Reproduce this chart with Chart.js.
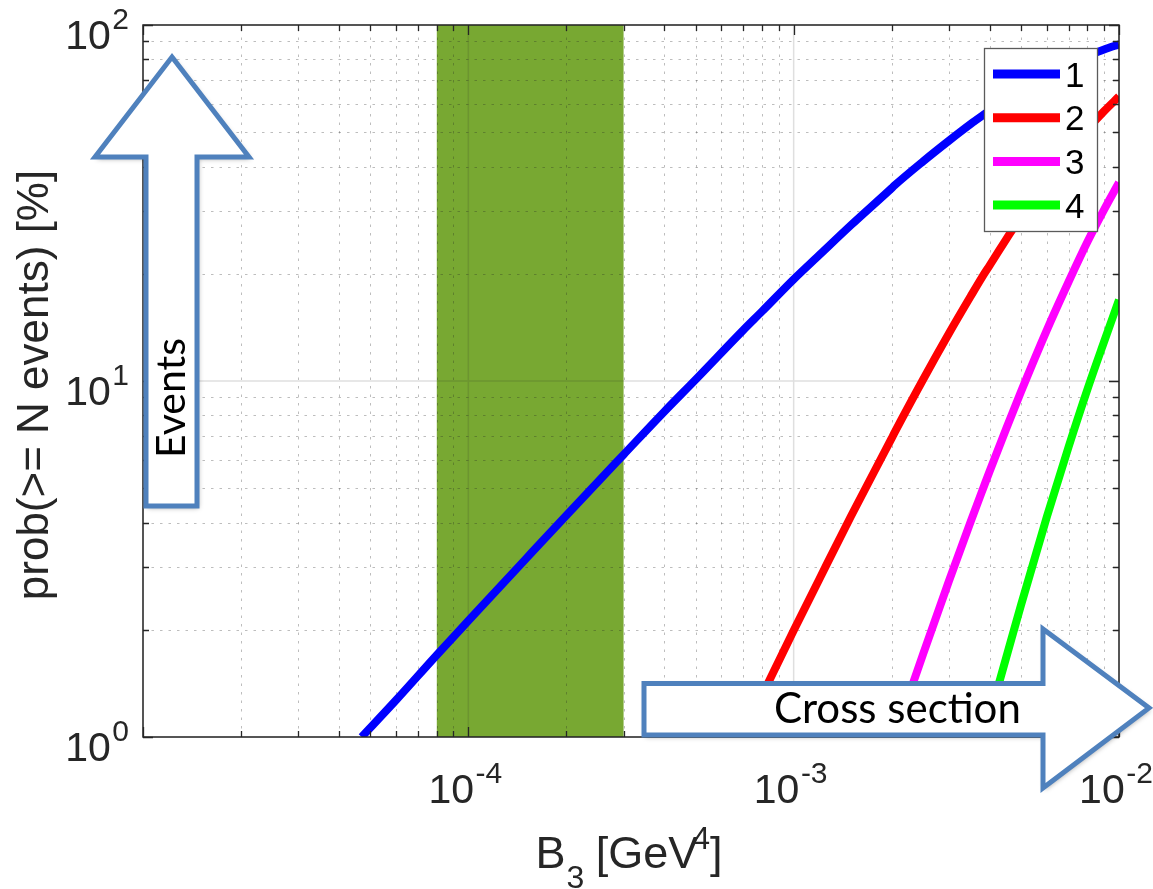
<!DOCTYPE html>
<html>
<head>
<meta charset="utf-8">
<title>prob(>= N events) vs B3</title>
<script src="https://cdn.jsdelivr.net/npm/chart.js@4.4.1/dist/chart.umd.min.js"></script>
<style>
  html, body { margin: 0; padding: 0; background: #ffffff; }
  canvas { display: block; }
</style>
</head>
<body>
<canvas id="chart" width="1153" height="889"></canvas>
<script>
// B3 sample points [GeV^4]
const b3 = [4.7e-5, 6e-5, 8e-5, 1e-4, 1.5e-4, 2e-4, 3e-4, 4e-4, 5e-4, 7e-4, 8e-4, 1e-3, 1.2e-3, 1.5e-3,
            2e-3, 2.04e-3, 2.5e-3, 3e-3, 3.5e-3, 3.85e-3, 4e-3, 4.5e-3, 5e-3, 6e-3, 7e-3, 8e-3, 9e-3, 1e-2];

// probability of observing at least N events [%]; null = below the plotted range
const probN1 = [1.00, 1.27, 1.70, 2.12, 3.16, 4.19, 6.21, 8.20, 10.1, 13.9, 15.7, 19.3, 22.6, 27.4,
                34.8, 35.4, 41.4, 47.3, 52.7, 56.1, 57.5, 61.8, 65.7, 72.3, 77.6, 81.9, 85.4, 88.2];
const probN2 = [null, null, null, null, null, null, null, null, null, 1.01, 1.31, 1.99, 2.78, 4.17,
                6.90, 7.15, 10.1, 13.6, 17.3, 20.0, 21.1, 25.0, 29.0, 36.7, 44.1, 51.0, 57.3, 63.0];
const probN3 = [null, null, null, null, null, null, null, null, null, null, null, null, null, null,
                null, 1.00, 1.71, 2.74, 4.03, 5.08, 5.57, 7.34, 9.34, 13.9, 19.0, 24.6, 30.3, 36.1];
const probN4 = [null, null, null, null, null, null, null, null, null, null, null, null, null, null,
                null, null, null, null, null, 1.00, 1.14, 1.67, 2.35, 4.15, 6.53, 9.48, 12.9, 16.9];

const seriesLabels = ['1', '2', '3', '4'];
const seriesColors = ['#0000ff', '#ff0000', '#ff00ff', '#00ff00'];

// shaded B3 interval [GeV^4]
const bandRange = [8e-5, 3e-4];

// axis ranges and tick labels
const xRange = [1e-5, 1e-2];
const yRange = [1, 100];
const xDecades = [1e-5, 1e-4, 1e-3, 1e-2];
const yDecades = [1, 10, 100];
const xTickValues = [1e-4, 1e-3, 1e-2];
const xTickExponents = ['-4', '-3', '-2'];
const yTickValues = [1, 10, 100];
const yTickExponents = ['0', '1', '2'];

const AXIS = '#262626';
const SANS = '"Liberation Sans", Arial, Helvetica, sans-serif';
const ARROW_FONT = 'Lato, "Open Sans", sans-serif';
const ARROW_BLUE = '#4f81bd';

function series(label, values, color) {
  return {
    label: label,
    data: b3.map((v, i) => ({ x: v, y: values[i] })),
    borderColor: color,
    backgroundColor: color,
    borderWidth: 8,
    pointRadius: 0,
    fill: false,
    cubicInterpolationMode: 'monotone',
    borderCapStyle: 'butt'
  };
}

// draws "10" with a raised exponent
function power(ctx, exp, x, y, align) {
  ctx.font = '41px ' + SANS;
  const wb = ctx.measureText('10').width;
  ctx.font = '30px ' + SANS;
  const we = ctx.measureText(exp).width;
  const gap = 1.5;
  const w = wb + gap + we;
  let x0 = x;
  if (align === 'center') x0 = x - w / 2;
  else if (align === 'right') x0 = x - w;
  ctx.textAlign = 'left';
  ctx.textBaseline = 'alphabetic';
  ctx.font = '41px ' + SANS;
  ctx.fillText('10', x0, y);
  ctx.font = '30px ' + SANS;
  ctx.fillText(exp, x0 + wb + gap, y - 20);
}

function minorValues(decades, lo, hi) {
  const out = [];
  decades.forEach(d => {
    for (let m = 1; m <= 9; m++) {
      const v = d * m;
      if (v >= lo * 0.9999 && v <= hi * 1.0001) out.push({ v: v, major: m === 1 });
    }
  });
  return out;
}

const sciPlot = {
  id: 'sciPlot',
  beforeDatasetsDraw(chart) {
    const { ctx, chartArea: a, scales: { x, y } } = chart;
    ctx.save();
    // shaded interval
    const bx0 = x.getPixelForValue(bandRange[0]);
    const bx1 = x.getPixelForValue(bandRange[1]);
    ctx.fillStyle = '#78a832';
    ctx.fillRect(bx0, a.top, bx1 - bx0, a.bottom - a.top);

    // grid: solid at decades, dotted in between
    const xs = minorValues(xDecades, xRange[0], xRange[1]);
    const ys = minorValues(yDecades, yRange[0], yRange[1]);
    ctx.lineWidth = 1;
    ctx.setLineDash([2.5, 6]);
    ctx.strokeStyle = 'rgba(38,38,38,0.3)';
    ctx.beginPath();
    xs.filter(t => !t.major).forEach(t => {
      const px = Math.round(x.getPixelForValue(t.v)) + 0.5;
      ctx.moveTo(px, a.bottom); ctx.lineTo(px, a.top);
    });
    ys.filter(t => !t.major).forEach(t => {
      const py = Math.round(y.getPixelForValue(t.v)) + 0.5;
      ctx.moveTo(a.left, py); ctx.lineTo(a.right, py);
    });
    ctx.stroke();
    ctx.setLineDash([]);
    ctx.lineWidth = 1.5;
    ctx.strokeStyle = 'rgba(38,38,38,0.15)';
    ctx.beginPath();
    xs.filter(t => t.major).forEach(t => {
      const px = x.getPixelForValue(t.v);
      ctx.moveTo(px, a.bottom); ctx.lineTo(px, a.top);
    });
    ys.filter(t => t.major).forEach(t => {
      const py = y.getPixelForValue(t.v);
      ctx.moveTo(a.left, py); ctx.lineTo(a.right, py);
    });
    ctx.stroke();
    ctx.restore();
  },
  afterDraw(chart) {
    const { ctx, chartArea: a, scales: { x, y } } = chart;
    ctx.save();

    // inward ticks on all four sides
    ctx.strokeStyle = AXIS;
    ctx.lineWidth = 1.3;
    ctx.beginPath();
    minorValues(xDecades, xRange[0], xRange[1]).forEach(t => {
      const px = Math.round(x.getPixelForValue(t.v)) + 0.5;
      const len = t.major ? 10 : 6;
      ctx.moveTo(px, a.bottom); ctx.lineTo(px, a.bottom - len);
      ctx.moveTo(px, a.top); ctx.lineTo(px, a.top + len);
    });
    minorValues(yDecades, yRange[0], yRange[1]).forEach(t => {
      const py = Math.round(y.getPixelForValue(t.v)) + 0.5;
      const len = t.major ? 10 : 6;
      ctx.moveTo(a.left, py); ctx.lineTo(a.left + len, py);
      ctx.moveTo(a.right, py); ctx.lineTo(a.right - len, py);
    });
    ctx.stroke();
    // axes box
    ctx.lineWidth = 1.5;
    ctx.strokeRect(a.left, a.top, a.right - a.left, a.bottom - a.top);

    // tick labels
    ctx.fillStyle = AXIS;
    xTickValues.forEach((v, i) => {
      power(ctx, xTickExponents[i], x.getPixelForValue(v) - 3, a.bottom + 66, 'center');
    });
    yTickValues.forEach((v, i) => {
      power(ctx, yTickExponents[i], a.left - 14, y.getPixelForValue(v) + 23.5, 'right');
    });

    // x title: B_3 [GeV^4]
    ctx.textAlign = 'left';
    ctx.textBaseline = 'alphabetic';
    const big = '45px ' + SANS, small = '32px ' + SANS;
    ctx.font = big;
    const wB = ctx.measureText('B').width;
    const wMid = ctx.measureText(' [GeV').width;
    const wEnd = ctx.measureText(']').width;
    ctx.font = small;
    const w3 = ctx.measureText('3').width;
    const w4 = ctx.measureText('4').width;
    const total = wB + w3 + wMid + w4 - 6 + wEnd;
    let cx = (a.left + a.right) / 2 - total / 2 - 2;
    const base = a.bottom + 131;
    ctx.font = big; ctx.fillText('B', cx, base); cx += wB;
    ctx.font = small; ctx.fillText('3', cx + 1, base + 20); cx += w3;
    ctx.font = big; ctx.fillText(' [GeV', cx, base); cx += wMid;
    ctx.font = small; ctx.fillText('4', cx - 6, base - 19); cx += w4 - 6;
    ctx.font = big; ctx.fillText(']', cx, base);

    // y title
    ctx.save();
    ctx.translate(48, (a.top + a.bottom) / 2 + 4);
    ctx.rotate(-Math.PI / 2);
    ctx.textAlign = 'center';
    ctx.font = '44px ' + SANS;
    ctx.fillText('prob(>= N events) [%]', 0, 0);
    ctx.restore();

    // legend
    const lg = { left: 984, top: 48, right: 1097, bottom: 231 };
    ctx.fillStyle = '#ffffff';
    ctx.fillRect(lg.left, lg.top, lg.right - lg.left, lg.bottom - lg.top);
    ctx.strokeStyle = '#5a5a5a';
    ctx.lineWidth = 1.3;
    ctx.strokeRect(lg.left + 0.5, lg.top + 0.5, lg.right - lg.left, lg.bottom - lg.top);
    const rowH = 43.7;
    chart.data.datasets.forEach((ds, i) => {
      const ry = lg.top + 26 + i * rowH;
      ctx.strokeStyle = ds.borderColor;
      ctx.lineWidth = 9;
      ctx.lineCap = 'butt';
      ctx.beginPath();
      ctx.moveTo(993, ry); ctx.lineTo(1060, ry);
      ctx.stroke();
      ctx.fillStyle = '#000000';
      ctx.font = '35px ' + SANS;
      ctx.textAlign = 'left';
      ctx.fillText(ds.label, 1065, ry + 12.5);
    });

    // annotation arrows
    const arrow = (pts) => {
      ctx.beginPath();
      pts.forEach((p, i) => i ? ctx.lineTo(p[0], p[1]) : ctx.moveTo(p[0], p[1]));
      ctx.closePath();
      ctx.save();
      ctx.shadowColor = 'rgba(0,0,0,0.35)';
      ctx.shadowBlur = 5;
      ctx.shadowOffsetX = 1.5;
      ctx.shadowOffsetY = 2;
      ctx.fillStyle = '#ffffff';
      ctx.fill();
      ctx.restore();
      ctx.strokeStyle = ARROW_BLUE;
      ctx.lineWidth = 5;
      ctx.lineJoin = 'miter';
      ctx.stroke();
    };
    arrow([[172, 57], [249, 157], [197, 157], [197, 506], [146, 506], [146, 157], [95, 157]]);
    arrow([[644, 683.5], [1043, 683.5], [1043, 629], [1149, 708], [1043, 788], [1043, 735], [644, 735]]);

    ctx.fillStyle = '#000000';
    ctx.textAlign = 'left';
    ctx.textBaseline = 'alphabetic';
    ctx.font = '40px ' + ARROW_FONT;
    const fsE = 40 * 120 / ctx.measureText('Events').width;
    const fsC = 40 * 247 / ctx.measureText('Cross section').width;
    ctx.save();
    ctx.translate(185, 398);
    ctx.rotate(-Math.PI / 2);
    ctx.textAlign = 'center';
    ctx.font = fsE.toFixed(1) + 'px ' + ARROW_FONT;
    ctx.fillText('Events', 0, 0);
    ctx.restore();
    ctx.font = fsC.toFixed(1) + 'px ' + ARROW_FONT;
    ctx.fillText('Cross section', 774, 723);

    ctx.restore();
  }
};

new Chart(document.getElementById('chart'), {
  type: 'line',
  data: {
    datasets: [
      series(seriesLabels[0], probN1, seriesColors[0]),
      series(seriesLabels[1], probN2, seriesColors[1]),
      series(seriesLabels[2], probN3, seriesColors[2]),
      series(seriesLabels[3], probN4, seriesColors[3])
    ]
  },
  options: {
    responsive: false,
    animation: false,
    devicePixelRatio: 1,
    layout: { padding: { left: 143, top: 25, right: 34, bottom: 152 } },
    scales: {
      x: { type: 'logarithmic', min: xRange[0], max: xRange[1], display: false },
      y: { type: 'logarithmic', min: yRange[0], max: yRange[1], display: false }
    },
    plugins: {
      legend: { display: false },
      tooltip: { enabled: false }
    }
  },
  plugins: [sciPlot]
});
</script>
</body>
</html>
